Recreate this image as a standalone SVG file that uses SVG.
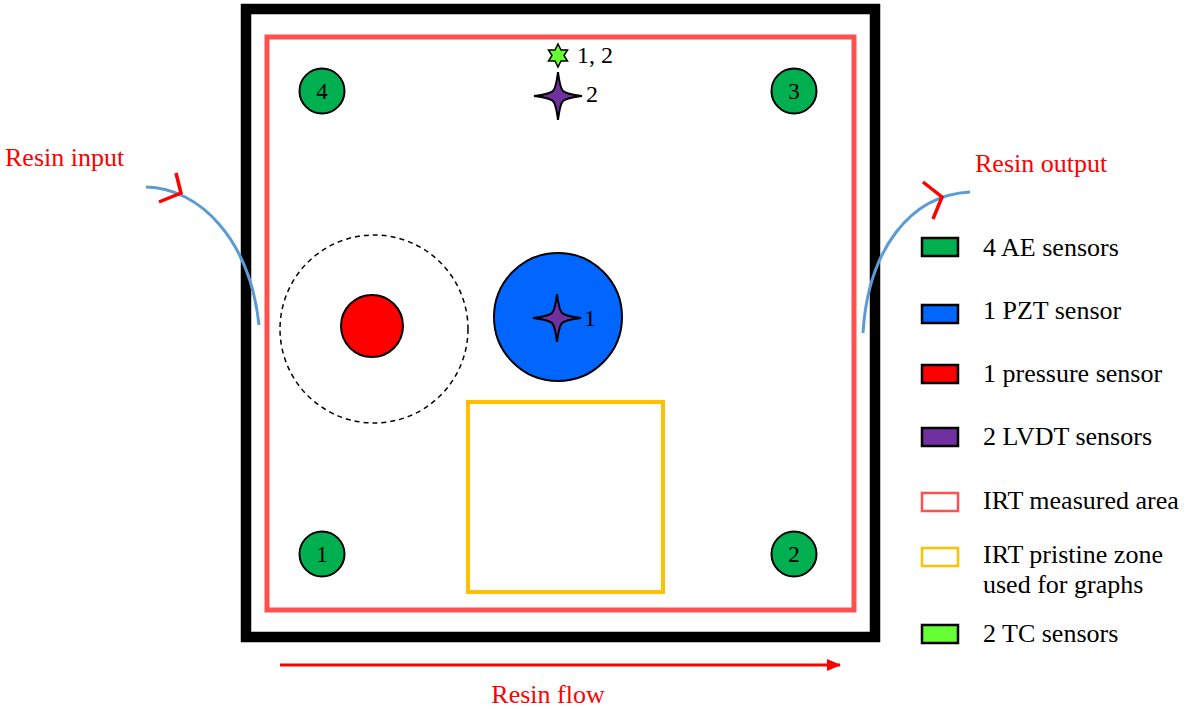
<svg xmlns="http://www.w3.org/2000/svg" width="1186" height="709" viewBox="0 0 1186 709" font-family="'Liberation Serif','Times New Roman',serif">
<style>
text{font-family:"Liberation Serif","Times New Roman",serif;fill:#000}
.lbl{font-size:26px}
.red{fill:#FF0000}
.ae{fill:#00B050;stroke:#000;stroke-width:2}
.sw{stroke:#000;stroke-width:2.5}
.lv{fill:#7030A0;stroke:#000;stroke-width:2}
.num{font-size:23px;text-anchor:middle}
.curve{fill:none;stroke:#5B9BD5;stroke-width:3}
.chev{fill:none;stroke:#FF0000;stroke-width:3.5}
</style>
<defs>
<path id="star4" d="M-24,0 Q-8,-2 -5,-5 Q-2,-8 0,-24 Q2,-8 5,-5 Q8,-2 24,0 Q8,2 5,5 Q2,8 0,24 Q-2,8 -5,5 Q-8,2 -24,0 Z"/>
<marker id="ah" markerWidth="14" markerHeight="12" refX="13" refY="6" orient="auto" markerUnits="userSpaceOnUse" viewBox="0 0 14 12">
<path d="M0,0 L14,6 L0,12 Z" fill="#FF0000"/>
</marker>
</defs>
<rect width="1186" height="709" fill="#fff"/>
<g id="frame">
<rect x="246" y="9" width="629" height="628" fill="#fff" stroke="#000" stroke-width="10.5"/>
</g>
<g id="irt-area">
<rect x="267" y="37" width="587" height="573" fill="none" stroke="#FF5050" stroke-width="5"/>
</g>
<g id="pristine-zone">
<rect x="468" y="402" width="195" height="190" fill="none" stroke="#FFC000" stroke-width="4"/>
</g>
<g id="ae4"><circle cx="322" cy="91" r="22.5" class="ae"/><text x="322" y="99" class="num">4</text></g>
<g id="ae3"><circle cx="794" cy="91" r="22.5" class="ae"/><text x="794" y="99" class="num">3</text></g>
<g id="ae1"><circle cx="322" cy="554" r="22.5" class="ae"/><text x="322" y="562" class="num">1</text></g>
<g id="ae2"><circle cx="794" cy="554" r="22.5" class="ae"/><text x="794" y="562" class="num">2</text></g>
<g id="pressure">
<circle cx="374" cy="329" r="94" fill="none" stroke="#000" stroke-width="1.5" stroke-dasharray="5,4"/>
<circle cx="372" cy="326" r="31" fill="#FF0000" stroke="#000" stroke-width="2"/>
</g>
<g id="pzt">
<circle cx="558" cy="317" r="64" fill="#0066FF" stroke="#000" stroke-width="2"/>
</g>
<g id="lvdt1"><use href="#star4" x="557" y="318" class="lv"/><text x="584" y="326" style="font-size:24px">1</text></g>
<g id="lvdt2"><use href="#star4" x="558" y="96" class="lv"/><text x="586" y="102" style="font-size:24px">2</text></g>
<g id="tc">
<path d="M558,44 L561,50 L567.5,50 L564,55.5 L567.5,61 L561,61 L558,67 L555,61 L548.5,61 L552,55.5 L548.5,50 L555,50 Z" fill="#66FF33" stroke="#000" stroke-width="1.5"/>
<text x="577" y="63" style="font-size:24px">1, 2</text>
</g>
<g id="connectors">
<path class="curve" d="M146,187 C200,188 250,240 259,325"/>
<path class="chev" d="M176,173 L181,193 L159,202"/>
<path class="curve" d="M863,333 C868,250 910,195 970,192"/>
<path class="chev" d="M923,182 L942,197 L933,219"/>
<line x1="280" y1="665" x2="840" y2="665" stroke="#FF0000" stroke-width="3" marker-end="url(#ah)"/>
</g>
<g id="labels">
<text x="5" y="166" class="lbl red">Resin input</text>
<text x="975" y="172" class="lbl red">Resin output</text>
<text x="548" y="703" class="lbl red" text-anchor="middle">Resin flow</text>
</g>
<g id="legend">
<rect x="922" y="238" width="36" height="18" fill="#00B050" class="sw"/>
<text x="983" y="256" class="lbl">4 AE sensors</text>
<rect x="922" y="305" width="36" height="18" fill="#0066FF" class="sw"/>
<text x="983" y="319" class="lbl">1 PZT sensor</text>
<rect x="922" y="365" width="36" height="18" fill="#FF0000" class="sw"/>
<text x="983" y="382" class="lbl">1 pressure sensor</text>
<rect x="922" y="428" width="36" height="18" fill="#7030A0" class="sw"/>
<text x="983" y="445" class="lbl">2 LVDT sensors</text>
<rect x="922" y="493" width="36" height="18" fill="#fff" stroke="#FF5050" stroke-width="2.5"/>
<text x="983" y="509" class="lbl">IRT measured area</text>
<rect x="922" y="548" width="36" height="18" fill="#fff" stroke="#FFC000" stroke-width="2.5"/>
<text x="983" y="563" class="lbl">IRT pristine zone</text>
<text x="983" y="593" class="lbl">used for graphs</text>
<rect x="922" y="625" width="36" height="18" fill="#66FF33" class="sw"/>
<text x="983" y="642" class="lbl">2 TC sensors</text>
</g>
</svg>
